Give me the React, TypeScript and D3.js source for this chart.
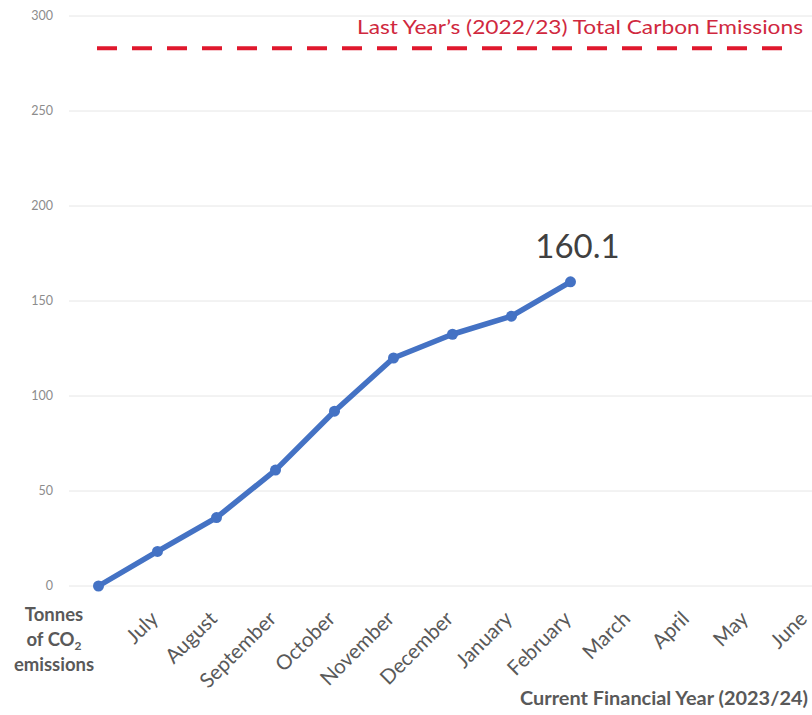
import React from "react";
import * as d3 from "d3";

// months of the financial year; first slot is the start point (no label)
const months = ["", "July", "August", "September", "October", "November", "December", "January", "February", "March", "April", "May", "June"];
const emissions = [0, 18.2, 36, 61, 92, 120, 132.5, 142, 160.1];
const yTicks = [0, 50, 100, 150, 200, 250, 300];
const lastYearTotal = 283;

const W = 812;
const H = 715;

const App = () => {
  const x = d3.scaleBand<string>().domain(months.map((m, i) => String(i))).range([69, 836]);
  const y = d3.scaleLinear().domain([0, 300]).range([586, 16]);
  const cx = (i: number) => (x(String(i)) as number) + x.bandwidth() / 2;

  const line = d3
    .line<number>()
    .x((d, i) => cx(i))
    .y((d) => y(d));

  const lastIdx = emissions.length - 1;
  const font = "Lato, 'Open Sans', sans-serif";

  return (
    <svg width={W} height={H} style={{ position: "absolute", left: 0, top: 0, background: "#fff" }}>
      {/* gridlines + y tick labels */}
      {yTicks.map((t) => (
        <g key={t}>
          <line x1={69} x2={W} y1={y(t)} y2={y(t)} stroke="#e6e6e6" strokeWidth={1} />
          <text x={53} y={y(t)} dy="0.35em" textAnchor="end" fontSize={12.5} fill="#8c8c8c" fontFamily={font}>
            {t}
          </text>
        </g>
      ))}

      {/* last year's total */}
      <line
        x1={97}
        x2={797}
        y1={y(lastYearTotal)}
        y2={y(lastYearTotal)}
        stroke="#e0182d"
        strokeWidth={4}
        strokeDasharray="20 15"
      />
      <text x={357} y={34} fontSize={20} fill="#d0283e" fontFamily={font} textLength={446} lengthAdjust="spacingAndGlyphs">
        Last Year’s (2022/23) Total Carbon Emissions
      </text>

      {/* emissions line */}
      <path d={line(emissions) || ""} fill="none" stroke="#4472c4" strokeWidth={5.5} strokeLinejoin="round" />
      {emissions.map((v, i) => (
        <circle key={i} cx={cx(i)} cy={y(v)} r={5.5} fill="#4472c4" />
      ))}
      <text x={cx(lastIdx) + 7} y={y(emissions[lastIdx]) - 24} textAnchor="middle" fontSize={33} fill="#404040" fontFamily={font}>
        {emissions[lastIdx].toFixed(1)}
      </text>

      {/* x labels */}
      {months.map((m, i) =>
        m ? (
          <text
            key={m}
            transform={`translate(${cx(i) + 2},${620}) rotate(-45)`}
            textAnchor="end"
            fontSize={20.5}
            fill="#595959"
            fontFamily={font}
          >
            {m}
          </text>
        ) : null
      )}

      {/* y axis title */}
      <text textAnchor="middle" fontSize={18.5} fontWeight="bold" fill="#595959" fontFamily={font}>
        <tspan x={54} y={621}>Tonnes</tspan>
        <tspan x={54} y={646}>
          of CO<tspan fontSize={12} dy={4}>2</tspan>
        </tspan>
        <tspan x={54} y={671}>emissions</tspan>
      </text>

      {/* x axis title */}
      <text x={520} y={705} fontSize={18} fontWeight="bold" fill="#595959" fontFamily={font} textLength={288} lengthAdjust="spacingAndGlyphs">
        Current Financial Year (2023/24)
      </text>
    </svg>
  );
};

export default App;
